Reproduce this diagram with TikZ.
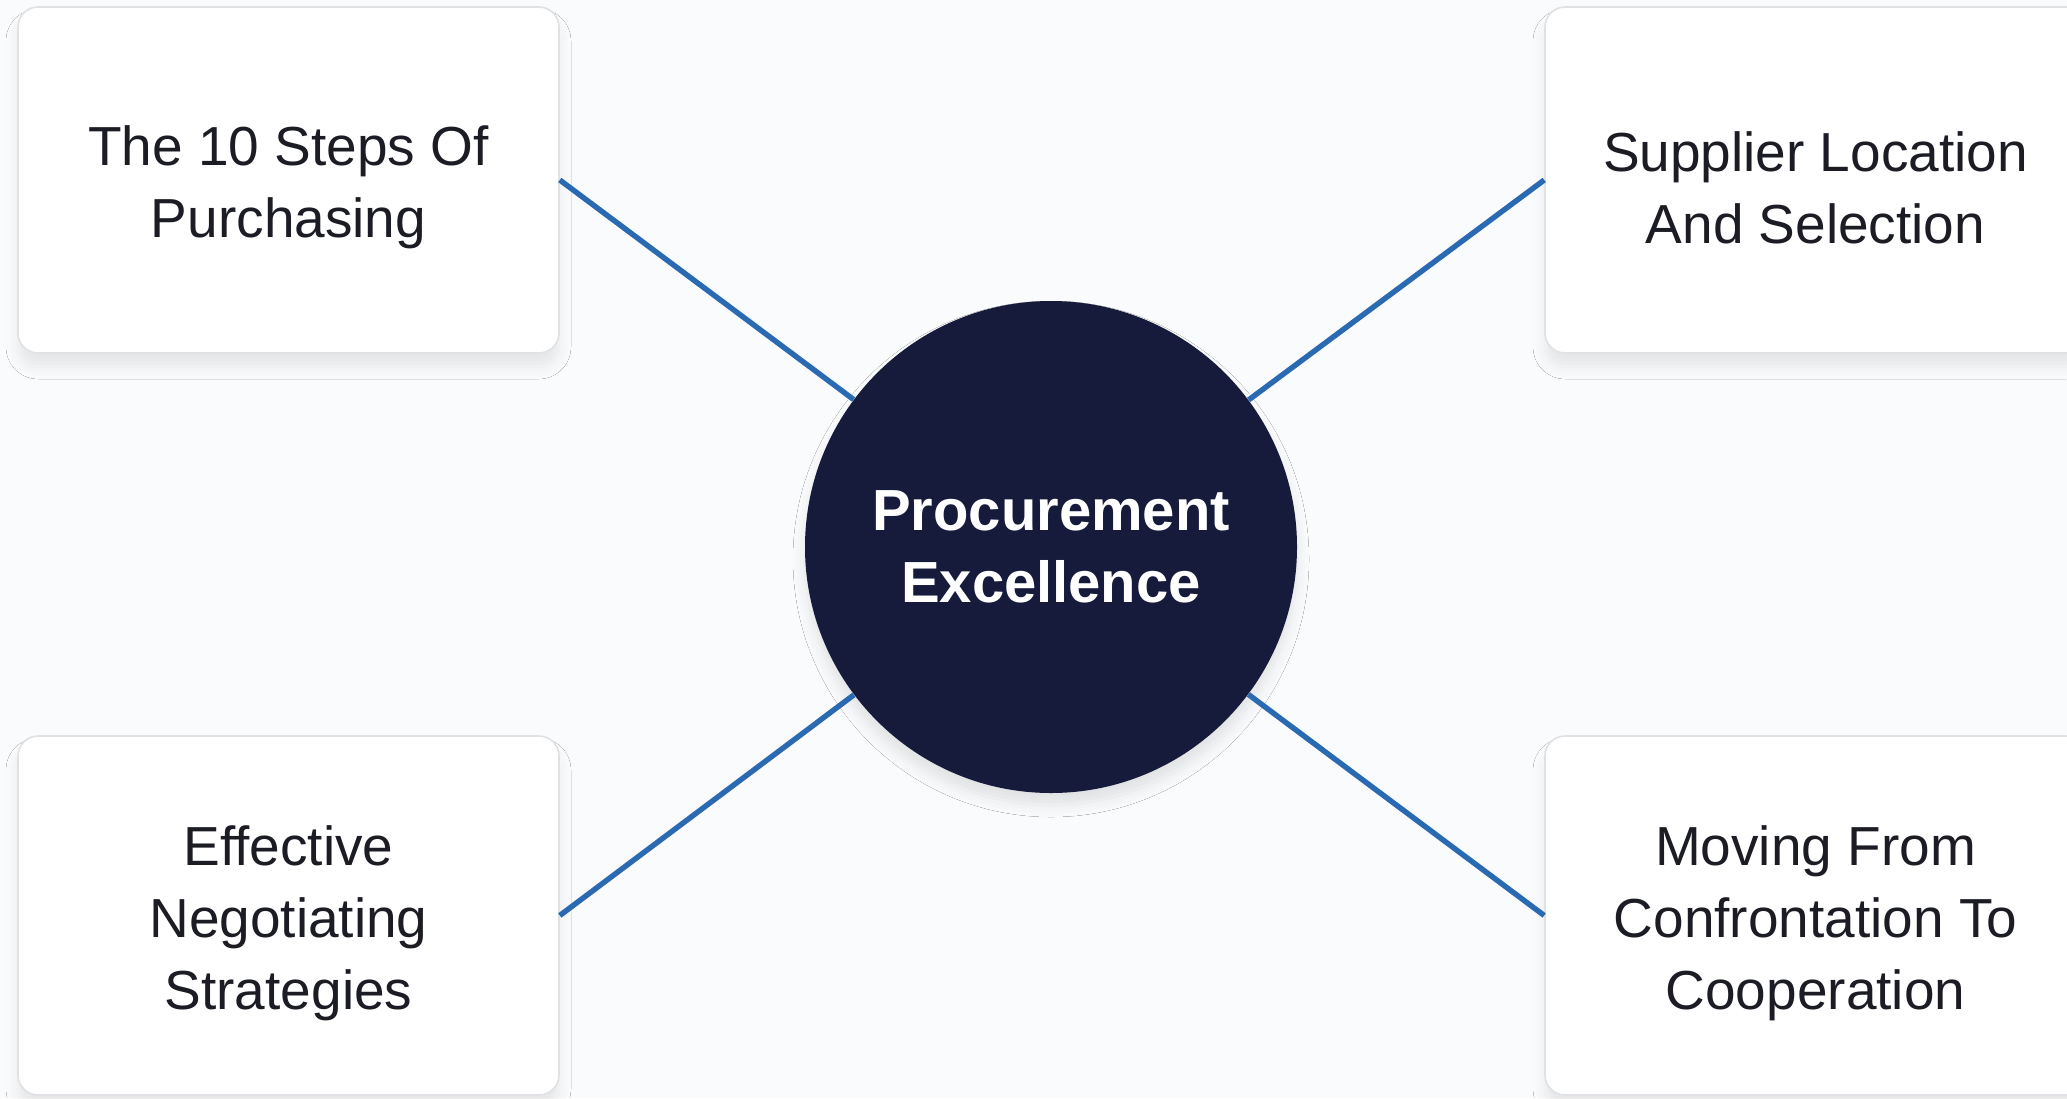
\documentclass[tikz,border=0pt]{standalone}
\usepackage{fontspec}
\setmainfont{Liberation Sans}
\usetikzlibrary{shadows.blur}
\definecolor{bgc}{HTML}{FAFBFC}
\definecolor{navy}{HTML}{161A3B}
\definecolor{linkblue}{HTML}{2A6AB3}
\definecolor{boxline}{HTML}{DFE1E5}
\definecolor{txt}{HTML}{1B1C24}
\tikzset{
  topicbox/.style={draw=boxline, line width=0.8pt, fill=white, rounded corners=10pt,
    minimum width=270.5pt, inner sep=0pt,
    blur shadow={shadow xshift=0pt, shadow yshift=-7pt, shadow blur radius=6pt, shadow opacity=8}},
  topictext/.style={inner sep=0pt, align=center, text=txt,
    font=\fontsize{27.5}{36}\selectfont},
  hub/.style={circle, fill=navy, minimum size=246pt, inner sep=0pt, align=center,
    text=white, font=\bfseries\fontsize{29}{36}\selectfont,
    blur shadow={shadow xshift=0pt, shadow yshift=-6pt, shadow blur radius=6pt, shadow opacity=10}},
  link/.style={draw=linkblue, line width=2.7pt}
}
\begin{document}
\begin{tikzpicture}[x=0.5pt, y=-0.5pt]
\fill[bgc] (0,0) rectangle (2067,1098);
\useasboundingbox (0,0) rectangle (2067,1098);
\node[topicbox, minimum height=173pt] (tl) at (288.5,180) {};
\node[topicbox, minimum height=173pt] (tr) at (1815.5,180) {};
\node[topicbox, minimum height=179.5pt] (bl) at (288.5,915.5) {};
\node[topicbox, minimum height=179.5pt] (br) at (1815.5,915.5) {};
\node[topictext] (tlt) at ([yshift=-3.8pt]tl.center) {The 10 Steps Of\\Purchasing};
\node[topictext] (trt) at ([yshift=-3.8pt]tr.center) {Supplier Location\\And Selection};
\node[topictext] (blt) at ([yshift=-4pt]bl.center) {Effective\\Negotiating\\Strategies};
\node[topictext] (brt) at ([yshift=-4pt]br.center) {Moving From\\Confrontation To\\Cooperation};
\node[hub] (pe) at (1051,547) {Procurement\\Excellence};
\draw[link] (tl.east) -- (pe);
\draw[link] (tr.west) -- (pe);
\draw[link] (bl.east) -- (pe);
\draw[link] (br.west) -- (pe);
\end{tikzpicture}
\end{document}
